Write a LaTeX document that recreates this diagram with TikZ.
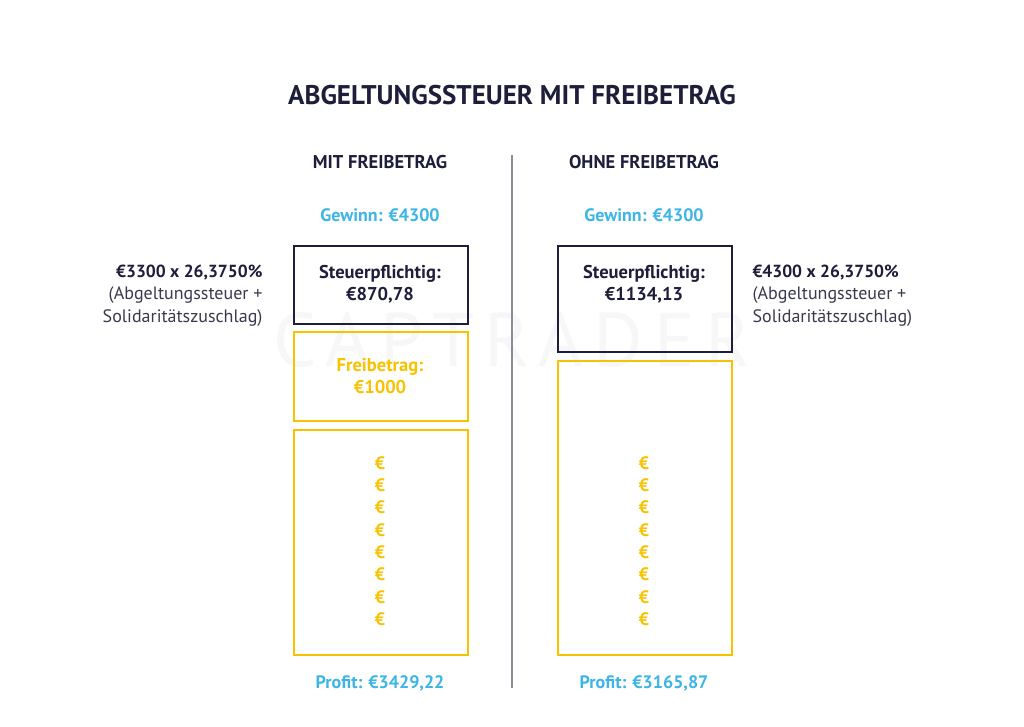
\documentclass[tikz,border=0pt]{standalone}
\usepackage{fontspec}
\setmainfont{PT Sans}
\usetikzlibrary{positioning}
\definecolor{navy}{HTML}{1E1D3A}
\definecolor{notegray}{HTML}{3A3A4F}
\definecolor{skyblue}{HTML}{3DB5E6}
\definecolor{gold}{HTML}{F7C300}
\definecolor{divgray}{HTML}{8C8B99}

\begin{document}
\begin{tikzpicture}[x=1pt, y=-1pt,
  box/.style={draw, line width=2pt, minimum width=174pt, inner sep=0pt, anchor=north west},
  taxbox/.style={box, draw=navy},
  freebox/.style={box, draw=gold},
  title/.style={font=\fontsize{27}{30}\selectfont\bfseries, text=navy},
  head/.style={font=\fontsize{18.5}{20}\selectfont\bfseries, text=navy},
  amount/.style={font=\fontsize{18}{20}\selectfont\bfseries, text=skyblue},
  inbox/.style={font=\fontsize{18.5}{22.5}\selectfont\bfseries, align=center},
  note/.style={font=\fontsize{18}{22.5}\selectfont, text=notegray},
  coin/.style={font=\fontsize{18}{20}\selectfont\bfseries, text=gold}]
  \useasboundingbox[fill=white] (0,0) rectangle (1024,726);

  % watermark
  \node[font=\fontsize{76}{76}\selectfont\addfontfeature{LetterSpace=14}, text=black!3] (mark) at (512,340) {CAPTRADER};

  \node[title] (title) at (512,95) {ABGELTUNGSSTEUER MIT FREIBETRAG};

  % divider
  \coordinate (divtop) at (512,155);
  \coordinate (divbot) at (512,688);
  \draw[divgray, line width=1.6pt] (divtop) -- (divbot);

  % mit Freibetrag
  \node[head]   (headL)   at (380,162) {MIT FREIBETRAG};
  \node[amount] (gainL)   at (380,215) {Gewinn: €4300};
  \node[taxbox, minimum height=78pt] (taxL)  at (293,245) {};
  \node[freebox, minimum height=89pt] (freeL) at (293,331) {};
  \node[freebox, minimum height=225pt] (cashL) at (293,429) {};
  \node[inbox, text=navy] (taxLtext)  at (380,284.5) {Steuerpflichtig:\\€870,78};
  \node[inbox, text=gold] (freeLtext) at (380,376) {Freibetrag:\\€1000};
  \foreach \i in {0,...,7}
    \node[coin] (coinL\i) at (380,{463+22.3*\i}) {€};
  \node[amount] (profitL) at (380,683) {Profit: €3429,22};
  \node[note, align=right, anchor=east] (noteL) at (266,295.5)
    {{\fontsize{17.5}{22.5}\selectfont\bfseries\color{navy}€3300 x 26,3750\%}\\(Abgeltungssteuer +\\Solidaritätszuschlag)};

  % ohne Freibetrag
  \node[head]   (headR)   at (644,162) {OHNE FREIBETRAG};
  \node[amount] (gainR)   at (644,215) {Gewinn: €4300};
  \node[taxbox, minimum height=106pt] (taxR)  at (557,245) {};
  \node[freebox, minimum height=294pt] (cashR) at (557,360) {};
  \node[inbox, text=navy] (taxRtext) at (644,284.5) {Steuerpflichtig:\\€1134,13};
  \foreach \i in {0,...,7}
    \node[coin] (coinR\i) at (644,{463+22.3*\i}) {€};
  \node[amount] (profitR) at (644,683) {Profit: €3165,87};
  \node[note, align=left, anchor=west] (noteR) at (749,295.5)
    {{\fontsize{17.5}{22.5}\selectfont\bfseries\color{navy}€4300 x 26,3750\%}\\(Abgeltungssteuer +\\Solidaritätszuschlag)};
\end{tikzpicture}
\end{document}
